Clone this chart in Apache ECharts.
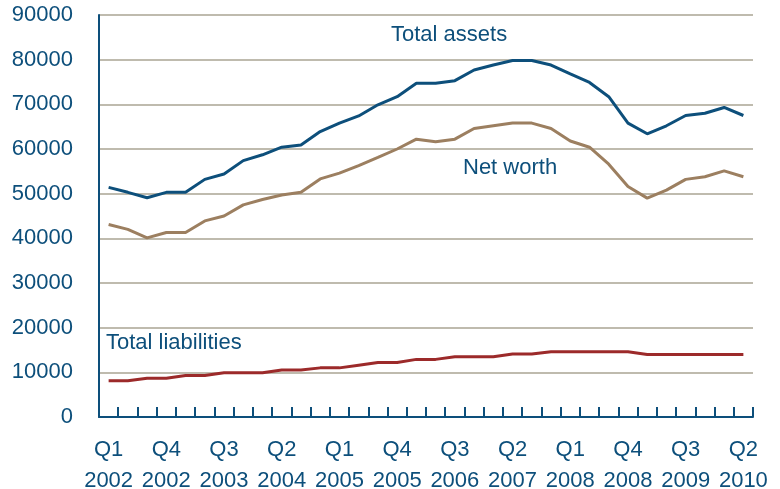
<!DOCTYPE html>
<html>
<head>
<meta charset="utf-8">
<script src="https://cdn.jsdelivr.net/npm/echarts@6/dist/echarts.min.js"></script>
<style>
  html, body { margin: 0; padding: 0; background: #fff; }
  #chart { width: 780px; height: 489px; }
</style>
</head>
<body>
<div id="chart"></div>
<script>
// quarters Q1 2002 .. Q2 2010
const quarters = [
  'Q1\n2002', 'Q2\n2002', 'Q3\n2002', 'Q4\n2002',
  'Q1\n2003', 'Q2\n2003', 'Q3\n2003', 'Q4\n2003',
  'Q1\n2004', 'Q2\n2004', 'Q3\n2004', 'Q4\n2004',
  'Q1\n2005', 'Q2\n2005', 'Q3\n2005', 'Q4\n2005',
  'Q1\n2006', 'Q2\n2006', 'Q3\n2006', 'Q4\n2006',
  'Q1\n2007', 'Q2\n2007', 'Q3\n2007', 'Q4\n2007',
  'Q1\n2008', 'Q2\n2008', 'Q3\n2008', 'Q4\n2008',
  'Q1\n2009', 'Q2\n2009', 'Q3\n2009', 'Q4\n2009',
  'Q1\n2010', 'Q2\n2010'
];

const totalAssets = [
  51400, 50300, 49100, 50300, 50300, 53200, 54400, 57400, 58700, 60400,
  60900, 63900, 65800, 67400, 69900, 71700, 74700, 74700, 75300, 77700,
  78800, 79800, 79800, 78800, 76800, 74900, 71700, 65800, 63400, 65200,
  67500, 68000, 69300, 67500
];

const netWorth = [
  43100, 42000, 40100, 41300, 41300, 43900, 45000, 47500, 48700, 49700,
  50300, 53300, 54600, 56300, 58100, 60000, 62200, 61600, 62200, 64600,
  65200, 65800, 65800, 64600, 61800, 60400, 56600, 51600, 49000, 50800,
  53200, 53800, 55100, 53800
];

const totalLiabilities = [
  8100, 8100, 8700, 8700, 9300, 9300, 9900, 9900, 9900, 10500,
  10500, 11000, 11000, 11600, 12200, 12200, 12900, 12900, 13500, 13500,
  13500, 14100, 14100, 14600, 14600, 14600, 14600, 14600, 14000, 14000,
  14000, 14000, 14000, 14000
];

const blue = '#0D4F7B';
const tan = '#9C7F60';
const red = '#9C2A2A';
const font = '"Liberation Sans", Arial, sans-serif';

let myChart = echarts.init(document.getElementById('chart'));

let option = {
  animation: false,
  grid: {
    left: 99,
    right: 27,
    top: 15,
    bottom: 72,
    outerBoundsMode: 'none'
  },
  xAxis: {
    type: 'category',
    data: quarters,
    boundaryGap: true,
    axisLine: {
      show: true,
      lineStyle: { color: blue, width: 2 }
    },
    axisTick: {
      show: true,
      inside: true,
      length: 10,
      interval: 0,
      lineStyle: { color: blue, width: 2 }
    },
    axisLabel: {
      interval: 2,
      color: blue,
      fontFamily: font,
      fontSize: 22,
      lineHeight: 31,
      margin: 17
    },
    splitLine: { show: false }
  },
  yAxis: {
    type: 'value',
    min: 0,
    max: 90000,
    interval: 10000,
    axisLine: {
      show: true,
      lineStyle: { color: blue, width: 2 }
    },
    axisTick: { show: false },
    axisLabel: {
      color: blue,
      fontFamily: font,
      fontSize: 22,
      margin: 26,
      formatter: (v) => String(v)
    },
    splitLine: {
      show: true,
      lineStyle: { color: '#BFBBAE', width: 2 }
    }
  },
  series: [
    {
      name: 'Total assets',
      type: 'line',
      data: totalAssets,
      symbol: 'none',
      lineStyle: { color: blue, width: 3 },
      z: 3
    },
    {
      name: 'Net worth',
      type: 'line',
      data: netWorth,
      symbol: 'none',
      lineStyle: { color: tan, width: 3 },
      z: 3
    },
    {
      name: 'Total liabilities',
      type: 'line',
      data: totalLiabilities,
      symbol: 'none',
      lineStyle: { color: red, width: 3 },
      z: 3
    }
  ],
  graphic: [
    {
      type: 'text',
      style: { x: 391, y: 35, text: 'Total assets', fill: blue, font: '22px ' + font, textVerticalAlign: 'middle' }
    },
    {
      type: 'text',
      style: { x: 463, y: 168, text: 'Net worth', fill: blue, font: '22px ' + font, textVerticalAlign: 'middle' }
    },
    {
      type: 'text',
      style: { x: 106, y: 343, text: 'Total liabilities', fill: blue, font: '22px ' + font, textVerticalAlign: 'middle' }
    }
  ]
};

myChart.setOption(option);
</script>
</body>
</html>
